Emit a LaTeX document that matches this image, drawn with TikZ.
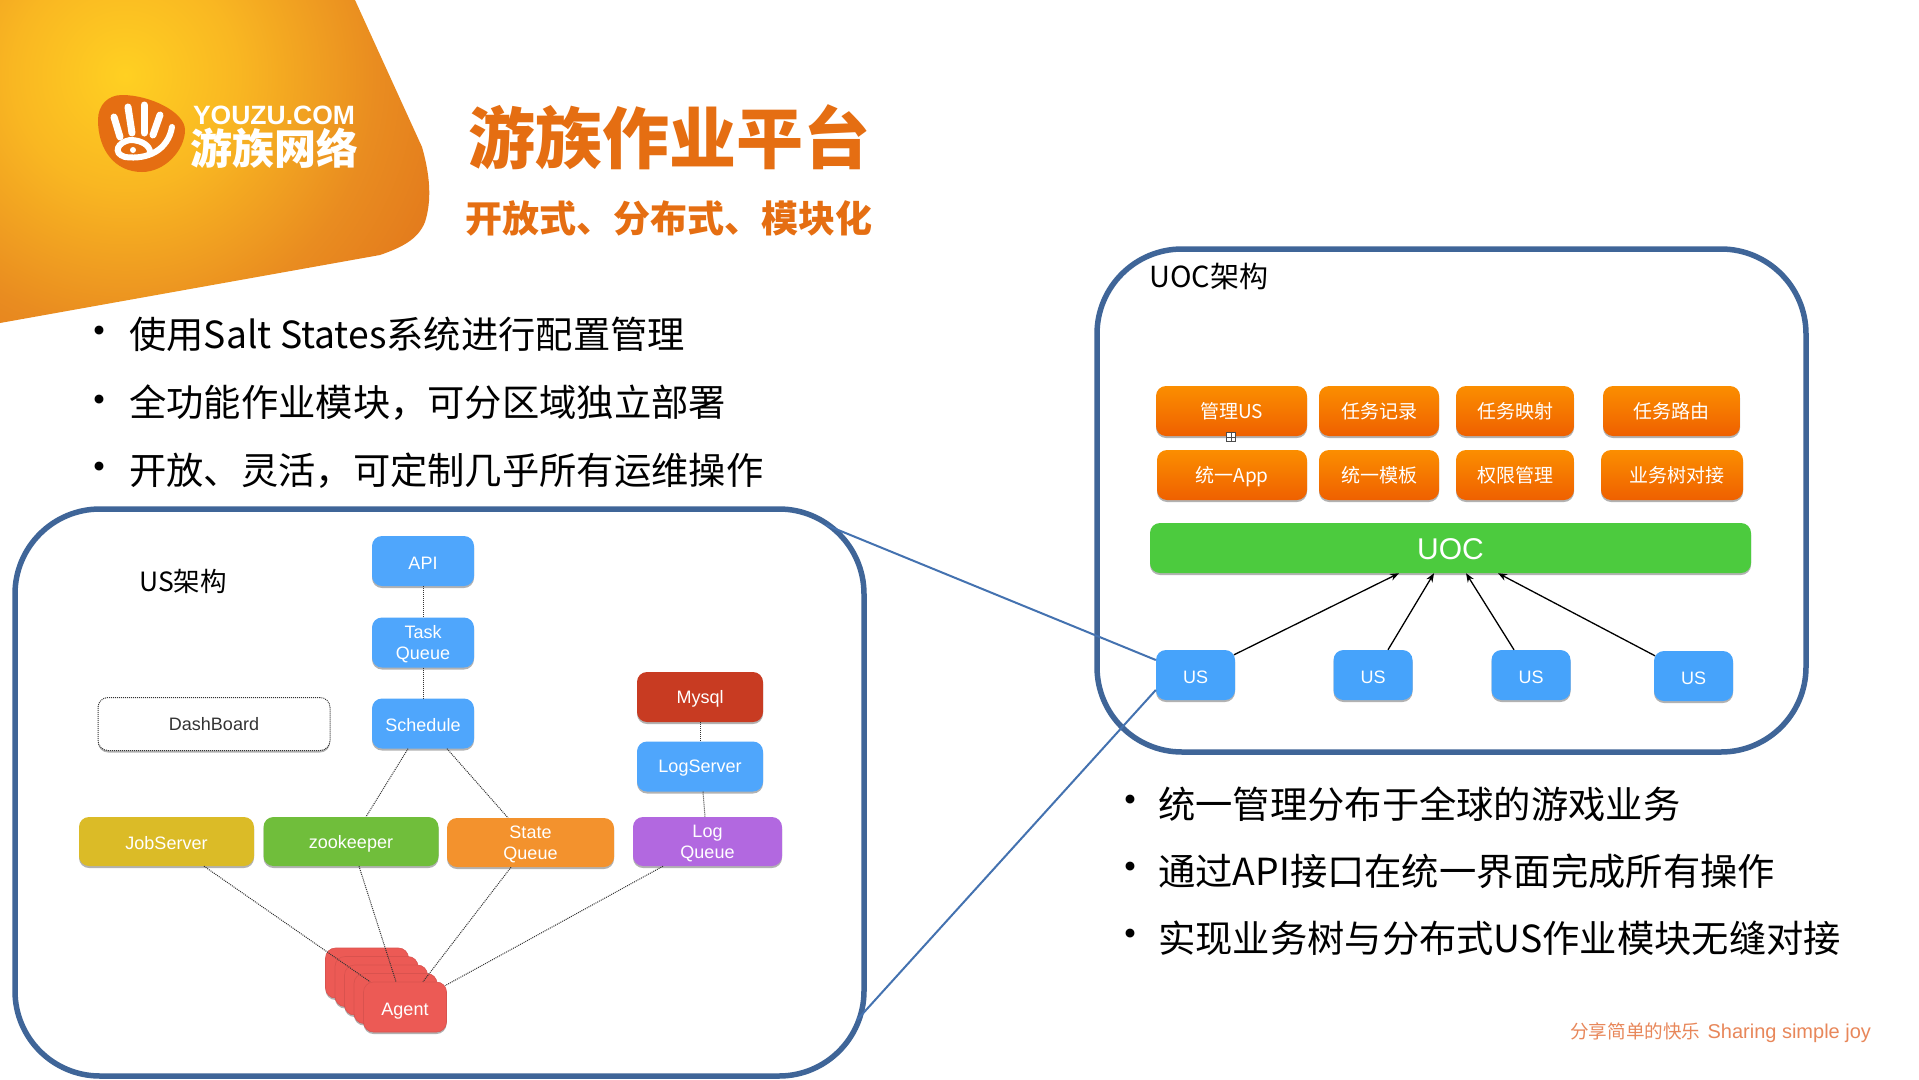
\documentclass[tikz,border=0pt]{standalone}
\usepackage{fontspec}
\setmainfont{Noto Sans CJK SC}
\newfontfamily\lat{Liberation Sans}
\usetikzlibrary{shadows,arrows.meta}
\newcommand\dn[1]{\raisebox{-2pt}[\height][\depth]{#1}}
\definecolor{titleor}{HTML}{E56E12}
\definecolor{framebl}{HTML}{3F6598}
\definecolor{linkbl}{HTML}{4472B0}
\definecolor{nodebl}{HTML}{4FA6FC}
\definecolor{usbl}{HTML}{46A3FB}
\definecolor{dots}{HTML}{333333}
\definecolor{ored1}{HTML}{FB8E00}
\definecolor{ored2}{HTML}{EF6000}
\definecolor{agentred}{HTML}{EC5A55}
\definecolor{agentedge}{HTML}{D9524E}
\definecolor{footor}{HTML}{E8875A}
\definecolor{mysqlred}{HTML}{C83B22}
\definecolor{jobyel}{HTML}{DBBB27}
\definecolor{zkgreen}{HTML}{70BE3B}
\definecolor{stateor}{HTML}{F3922D}
\definecolor{logpur}{HTML}{B268E0}
\definecolor{uocgreen}{HTML}{4CCB3E}
\definecolor{bana}{HTML}{FFD022}
\definecolor{banb}{HTML}{F9B722}
\definecolor{banc}{HTML}{E98C20}
\definecolor{band}{HTML}{DC6518}
\pgfdeclareradialshading{bannershade}{\pgfpoint{0bp}{0bp}}{%
  color(0bp)=(bana);
  color(8bp)=(banb);
  color(18bp)=(banc);
  color(32bp)=(band);
  color(50bp)=(band)}
\tikzset{
  x=1pt,y=-1pt,
  frame/.style={draw=framebl,line width=5.5pt,rounded corners=85pt},
  box/.style={rounded corners=10pt,inner sep=0pt,align=center,text=white,
    font=\lat\fontsize{18}{21}\selectfont,
    drop shadow={shadow xshift=0pt,shadow yshift=-2pt,opacity=.3,fill=black}},
  bluebox/.style={box,fill=nodebl,minimum width=102pt,minimum height=50pt},
  rowbox/.style={box,fill=#1,minimum width=175pt,minimum height=49pt},
  logbox/.style={box,fill=#1,minimum width=126pt,minimum height=50pt},
  orbox/.style={box,top color=ored1,bottom color=ored2,minimum height=50pt,
    font=\fontsize{19}{21}\selectfont},
  usbox/.style={box,fill=usbl,minimum width=79pt,minimum height=50pt},
  agentbox/.style={box,fill=agentred,draw=agentedge,line width=.6pt,minimum width=83pt,minimum height=50pt},
  dotlink/.style={draw=dots,line width=1pt,densely dotted},
  bluelink/.style={draw=linkbl,line width=2pt},
  arrowlink/.style={draw=black,line width=1.3pt,-{Stealth[length=9pt,width=7pt]}},
  bulletmark/.style={inner sep=0pt,font=\fontsize{42}{42}\selectfont},
  bullettext/.style={anchor=west,inner sep=0pt,font=\fontsize{37.3}{37.3}\selectfont},
  capt/.style={inner sep=0pt,font=\fontsize{26.5}{26}\selectfont},
  hand/.style={draw=white,line width=7pt,line cap=round},
}
\begin{document}
\begin{tikzpicture}
\useasboundingbox (0,0) rectangle (1919,1079);
\fill[white] (0,0) rectangle (1919,1079);
% banner
\begin{scope}
\clip (0,0) -- (355,0) -- (422,147) .. controls (430,175) and (432,200) .. (425,222)
  .. controls (418,240) and (400,248) .. (380,255) -- (0,323) -- cycle;
\shade[shading=bannershade] (125,75) circle (350);
\end{scope}
% logo
\fill[titleor] (122,95) .. controls (150,95) and (185,112) .. (185,130)
  .. controls (185,150) and (165,172) .. (142,172)
  .. controls (115,172) and (98,150) .. (98,120)
  .. controls (98,105) and (108,95) .. (122,95) -- cycle;
\draw[hand] (114,117) -- (120,137);
\draw[hand] (128,107) -- (132,133);
\draw[hand] (144,105) -- (144,133);
\draw[hand] (160,115) -- (153,135);
\draw[hand,line width=6pt] (172,127) .. controls (168,150) and (148,160) .. (125,157)
  .. controls (112,153) and (118,142) .. (130,140) .. controls (142,140) and (150,146) .. (150,152);
\fill[white] (133,150) circle (3);
\node[inner sep=0pt,text=white,font=\bfseries\lat\fontsize{26.5}{26}\selectfont] (logoa) at (274,115.5) {YOUZU.COM};
\node[inner sep=0pt,text=white,font=\bfseries\fontsize{42}{42}\selectfont] (logob) at (274,148) {游族网络};
% titles
\node[inner sep=0pt,text=titleor,font=\bfseries\fontsize{67}{67}\selectfont] (title) at (669,137) {游族作业平台};
\node[inner sep=0pt,text=titleor,font=\bfseries\fontsize{37}{37}\selectfont] (subtitle) at (669,218) {开放式、分布式、模块化};
% left bullets
\node[bulletmark] (bl1) at (99,336) {•};
\node[bullettext] (tl1) at (129,334) {使用Salt States系统进行配置管理};
\node[bulletmark] (bl2) at (99,405) {•};
\node[bullettext] (tl2) at (129,403) {全功能作业模块，可分区域独立部署};
\node[bulletmark] (bl3) at (99,472) {•};
\node[bullettext] (tl3) at (129,471) {开放、灵活，可定制几乎所有运维操作};
% right bullets
\node[bulletmark] (br1) at (1130,805) {•};
\node[bullettext] (tr1) at (1158,804) {统一管理分布于全球的游戏业务};
\node[bulletmark] (br2) at (1130,872) {•};
\node[bullettext] (tr2) at (1158,871) {通过API接口在统一界面完成所有操作};
\node[bulletmark] (br3) at (1130,939) {•};
\node[bullettext] (tr3) at (1158,938) {实现业务树与分布式US作业模块无缝对接};
% footer
\node[anchor=west,inner sep=0pt,text=footor,font=\fontsize{18.6}{18}\selectfont] (footer) at (1570,1033) {分享简单的快乐 \hspace{3pt}{\lat\fontsize{20}{20}\selectfont Sharing simple joy}};
% frames
\draw[frame] (15,509) rectangle (864,1076);
\draw[frame] (1097,249) rectangle (1806,752);
\node[capt] (uslabel) at (183,581) {US架构};
\node[capt,font=\fontsize{29}{29}\selectfont] (uoclabel) at (1209,276) {UOC架构};
% US architecture
\node[bluebox] (api) at (423,561) {\dn{API}};
\node[bluebox] (task) at (423,642.5) {\dn{Task}\\\dn{Queue}};
\node[bluebox] (sched) at (423,723.5) {\dn{Schedule}};
\node[box,fill=white,draw=dots,densely dotted,line width=1pt,text=black!80,minimum width=232pt,minimum height=53pt] (dash) at (214,724) {DashBoard};
\node[logbox=mysqlred] (mysql) at (700,697) {\dn{Mysql}};
\node[logbox=nodebl] (logsrv) at (700,766.5) {\dn{LogServer}};
\node[rowbox=jobyel] (job) at (166.5,841.5) {\dn{JobServer}};
\node[rowbox=zkgreen] (zk) at (351,841.5) {\dn{zookeeper}};
\node[rowbox=stateor,minimum width=167pt] (state) at (530.5,842.5) {\dn{State}\\\dn{Queue}};
\node[rowbox=logpur,minimum width=149pt] (logq) at (707.5,841.5) {\dn{Log}\\\dn{Queue}};
\node[agentbox] (agenta) at (367,973) {};
\node[agentbox] (agentb) at (376.5,981.5) {};
\node[agentbox] (agentc) at (386,990) {};
\node[agentbox] (agentd) at (395.5,998.5) {};
\node[agentbox] (agent) at (405,1007) {\raisebox{-4.5pt}[\height][\depth]{Agent}};
\draw[dotlink] (api) -- (task);
\draw[dotlink] (task) -- (sched);
\draw[dotlink] ([xshift=-15pt]sched.south) -- ([xshift=15pt]zk.north);
\draw[dotlink] ([xshift=24pt]sched.south) -- ([xshift=-22.5pt]state.north);
\draw[dotlink] (mysql) -- (logsrv);
\draw[dotlink] ([xshift=3pt]logsrv.south) -- ([xshift=-2.5pt]logq.north);
\draw[dotlink] ([xshift=37.5pt]job.south) -- ([xshift=-35pt]agent.north);
\draw[dotlink] ([xshift=8pt]zk.south) -- ([xshift=-9pt]agent.north);
\draw[dotlink] ([xshift=-19.5pt]state.south) -- ([xshift=18pt]agent.north);
\draw[dotlink] ([xshift=-44.5pt]logq.south) -- ([xshift=40pt,yshift=-4pt]agent.north);
% links between frames
\coordinate (ustop) at (826,525);
\coordinate (usbot) at (857,1020);
% UOC architecture
\node[orbox,minimum width=151pt] (o1) at (1231.5,411) {管理US};
\node[orbox,minimum width=120pt] (o2) at (1379,411) {任务记录};
\node[orbox,minimum width=118pt] (o3) at (1515,411) {任务映射};
\node[orbox,minimum width=137pt] (o4) at (1671.5,411) {任务路由};
\node[orbox,minimum width=150pt] (o5) at (1232,475) {\dn{统一App}};
\node[orbox,minimum width=120pt] (o6) at (1379,475) {统一模板};
\node[orbox,minimum width=118pt] (o7) at (1515,475) {权限管理};
\node[orbox,minimum width=142pt] (o8) at (1672,475) {\hspace*{10pt}业务树对接};
\node[box,fill=uocgreen,minimum width=601pt,minimum height=50pt,font=\lat\fontsize{30}{30}\selectfont] (uoc) at (1450.5,548) {\raisebox{-1pt}[\height][\depth]{UOC}};
\node[usbox] (us1) at (1195.5,675) {\dn{US}};
\node[usbox] (us2) at (1373,675) {\dn{US}};
\node[usbox] (us3) at (1531,675) {\dn{US}};
\node[usbox] (us4) at (1693.5,676) {\dn{US}};
\draw[bluelink] (ustop) -- ([yshift=15pt]us1.west);
\draw[bluelink] (usbot) -- ([yshift=-15pt]us1.west);
\draw[arrowlink] ([xshift=38.5pt,yshift=-5pt]us1.north) -- ([xshift=-51.5pt]uoc.south);
\draw[arrowlink] ([xshift=15pt]us2.north) -- ([xshift=-16.5pt]uoc.south);
\draw[arrowlink] ([xshift=-17pt]us3.north) -- ([xshift=15.5pt]uoc.south);
\draw[arrowlink] ([xshift=-38.5pt,yshift=-5pt]us4.north) -- ([xshift=47.5pt]uoc.south);
\node[draw=black!70,fill=white,line width=.6pt,minimum size=9pt,inner sep=0pt] (handle) at (1231,437) {};
\draw[black!70,line width=.6pt] (handle.west) -- (handle.east) (handle.north) -- (handle.south);
\end{tikzpicture}
\end{document}
